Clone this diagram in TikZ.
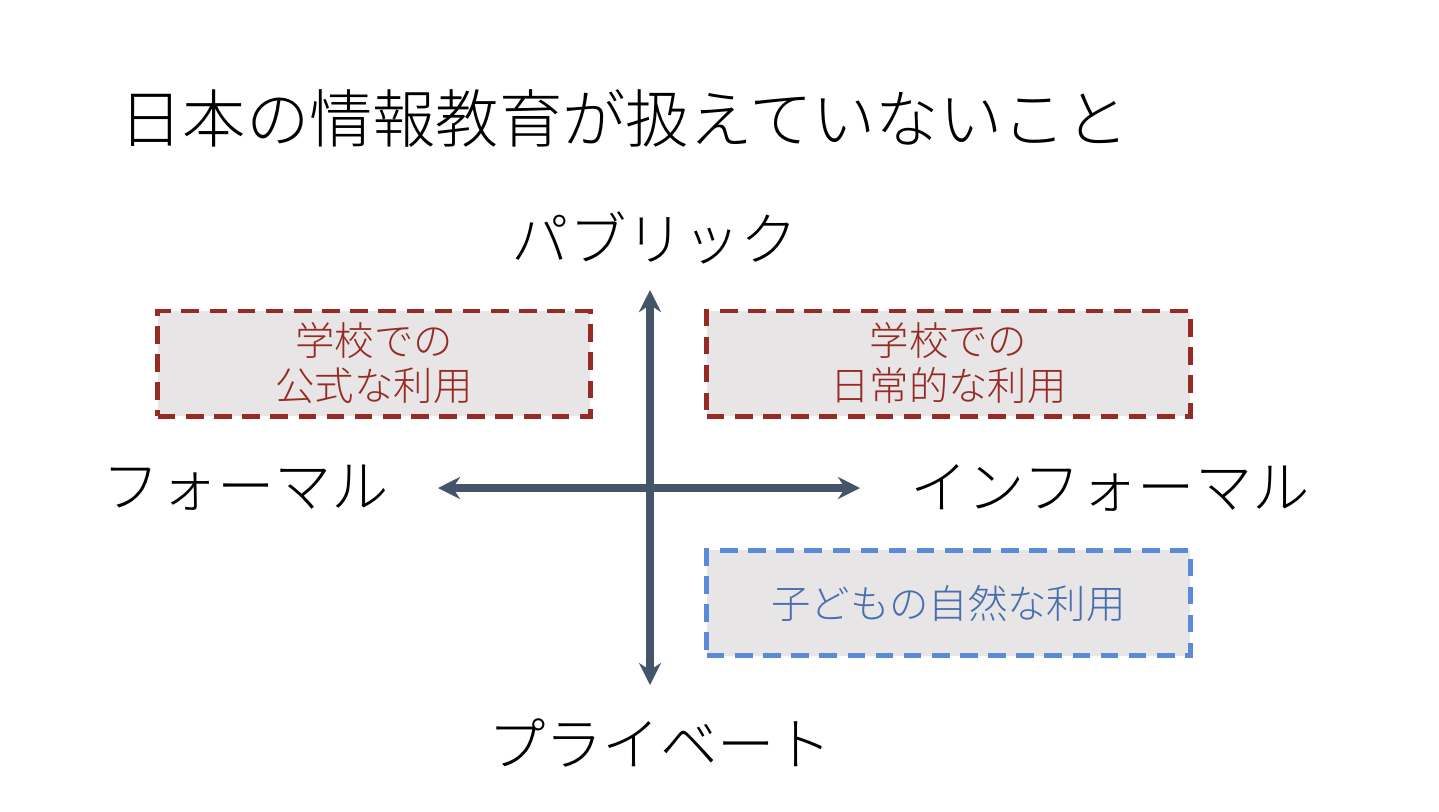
\documentclass[tikz,border=0pt]{standalone}
\usepackage{fontspec}
\setmainfont{Noto Sans CJK JP}[UprightFont=* Light]
\usetikzlibrary{arrows.meta,positioning}
\definecolor{boxgray}{HTML}{E7E5E6}
\definecolor{formalred}{HTML}{962A24}
\definecolor{privblue}{HTML}{5A8AD8}
\definecolor{axisslate}{HTML}{44546A}
\tikzset{
  quadbox/.style={draw, fill=boxgray, line width=1.4pt, dash pattern=on 5pt off 3pt,
    minimum height=1.05cm, align=center, inner sep=0pt,
    font=\fontsize{11.2}{12.8}\selectfont},
  axislabel/.style={font=\fontsize{16.3}{18}\selectfont},
  axisline/.style={draw=axisslate, line width=2pt,
    {Stealth[length=0.22cm,width=0.22cm]}-{Stealth[length=0.22cm,width=0.22cm]}}
}
\begin{document}
\begin{tikzpicture}[x=0.01cm,y=-0.01cm]
\useasboundingbox (0,0) rectangle (1439,811);
\node[anchor=west, font=\fontsize{18}{20}\selectfont] (title) at (107,118) {日本の情報教育が扱えていないこと};

% axes
\coordinate (top) at (650,290);
\coordinate (bottom) at (650,685);
\coordinate (left) at (438,488);
\coordinate (right) at (860,488);
\draw[axisline] (top) -- (bottom);
\draw[axisline] (left) -- (right);

% axis labels
\node[axislabel] (public) at (655,238) {パブリック};
\node[axislabel] (private) at (660,743) {プライベート};
\node[axislabel] (formal) at (246,488) {フォーマル};
\node[axislabel] (informal) at (1110,488) {インフォーマル};

% quadrants
\node[quadbox, draw=formalred, text=formalred, minimum width=4.32cm] (school) at (374,363.5) {学校での\\公式な利用};
\node[quadbox, draw=formalred, text=formalred, minimum width=4.83cm] (daily) at (948.5,363.5) {学校での\\日常的な利用};
\node[quadbox, draw=privblue, text=privblue!80!black, minimum width=4.83cm] (child) at (948.5,603) {子どもの自然な利用};
\end{tikzpicture}
\end{document}
